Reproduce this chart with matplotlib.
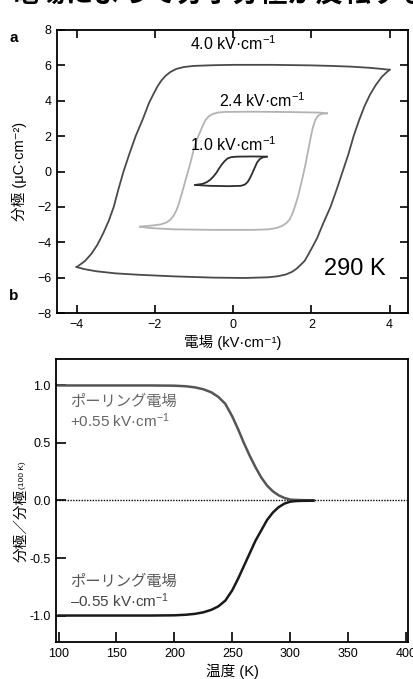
import matplotlib
matplotlib.use("Agg")
import matplotlib.pyplot as plt
from matplotlib.ticker import FixedLocator

plt.rcParams['font.family'] = ['Liberation Sans', 'Noto Sans CJK JP', 'DejaVu Sans']
plt.rcParams['mathtext.fontset'] = 'custom'
plt.rcParams['mathtext.rm'] = 'Liberation Sans'
plt.rcParams['mathtext.it'] = 'Liberation Sans:italic'
plt.rcParams['mathtext.bf'] = 'Liberation Sans:bold'
plt.rcParams['mathtext.default'] = 'regular'

# ---------------- data: panel a (hysteresis loops, E in kV/cm, P in uC/cm2)
outer_up_E = [4.0, 3.8, 3.5, 3.0, 2.5, 2.0, 1.0, 0.0, -0.5, -1.0, -1.25, -1.45, -1.6, -1.72, -1.83, -1.93, -2.03,
              -2.15, -2.3, -2.49, -2.65, -2.8, -2.93, -3.05, -3.18, -3.32, -3.47, -3.62, -3.78, -3.9, -4.0]
outer_up_P = [5.75, 5.8, 5.86, 5.93, 5.97, 6.0, 6.03, 6.03, 6.01, 5.97, 5.91, 5.8, 5.63, 5.42, 5.15, 4.82, 4.4,
              3.87, 3.0, 2.0, 1.0, 0.0, -1.0, -2.0, -2.8, -3.5, -4.15, -4.65, -5.05, -5.25, -5.4]
outer_lo_E = [-4.0, -3.8, -3.5, -3.0, -2.4, -1.5, -0.5, 0.3, 0.9, 1.15, 1.35, 1.5, 1.62, 1.73, 1.83, 1.92, 2.02,
              2.15, 2.3, 2.49, 2.65, 2.8, 2.95, 3.08, 3.22, 3.36, 3.5, 3.65, 3.8, 3.92, 4.0]
outer_lo_P = [-5.4, -5.52, -5.64, -5.76, -5.84, -5.93, -6.0, -6.02, -5.98, -5.92, -5.82, -5.68, -5.5, -5.27, -5.05,
              -4.7, -4.3, -3.75, -2.95, -2.0, -1.0, 0.0, 1.0, 2.0, 2.9, 3.7, 4.35, 4.9, 5.35, 5.6, 5.75]

mid_up_E = [2.4, 2.2, 1.5, 0.5, -0.2, -0.4, -0.52, -0.62, -0.7, -0.77, -0.84, -0.93, -1.0, -1.06, -1.12, -1.19,
            -1.26, -1.33, -1.39, -1.45, -1.52, -1.6, -1.7, -1.85, -2.05, -2.38]
mid_up_P = [3.29, 3.33, 3.36, 3.38, 3.37, 3.33, 3.25, 3.12, 2.92, 2.62, 2.25, 1.78, 1.3, 0.75, 0.25, -0.29,
            -0.85, -1.4, -1.85, -2.2, -2.5, -2.72, -2.88, -2.99, -3.05, -3.12]
mid_lo_E = [-2.38, -2.1, -1.5, -0.5, 0.5, 0.9, 1.1, 1.25, 1.36, 1.45, 1.53, 1.6, 1.66, 1.72, 1.78, 1.85, 1.92,
            1.98, 2.04, 2.1, 2.17, 2.26, 2.4]
mid_lo_P = [-3.12, -3.2, -3.27, -3.3, -3.3, -3.27, -3.2, -3.08, -2.92, -2.7, -2.3, -1.85, -1.4, -0.86, -0.3, 0.4,
            1.2, 1.9, 2.5, 2.9, 3.15, 3.26, 3.29]

inner_up_E = [0.86, 0.5, 0.1, -0.05, -0.14, -0.21, -0.28, -0.35, -0.42, -0.5, -0.58, -0.67, -0.78, -0.97]
inner_up_P = [0.84, 0.85, 0.84, 0.81, 0.74, 0.6, 0.42, 0.2, -0.05, -0.28, -0.46, -0.6, -0.7, -0.76]
inner_lo_E = [-0.97, -0.6, -0.1, 0.2, 0.3, 0.37, 0.43, 0.49, 0.55, 0.61, 0.68, 0.76, 0.86]
inner_lo_P = [-0.76, -0.81, -0.83, -0.81, -0.74, -0.6, -0.38, -0.1, 0.2, 0.5, 0.7, 0.8, 0.84]

loop_labels = ["4.0 kV·cm$^{-1}$", "2.4 kV·cm$^{-1}$", "1.0 kV·cm$^{-1}$"]

# ---------------- data: panel b (normalized polarization vs temperature)
temp_K = [100, 180, 200, 210, 218, 225, 232, 238, 244, 250, 255, 260, 265, 270, 275, 280, 285, 290, 295, 300,
          305, 310, 320]
pol_pos = [1.0, 1.0, 0.998, 0.993, 0.983, 0.967, 0.94, 0.9, 0.84, 0.73, 0.62, 0.5, 0.39, 0.29, 0.2, 0.13, 0.08,
           0.045, 0.022, 0.008, 0.005, 0.003, 0.002]
pol_neg = [-1.0, -1.0, -0.998, -0.993, -0.985, -0.972, -0.95, -0.92, -0.87, -0.78, -0.68, -0.57, -0.46, -0.35,
           -0.26, -0.17, -0.105, -0.058, -0.027, -0.01, -0.005, -0.003, -0.002]

W, H = 414, 679
fig = plt.figure(figsize=(W / 100, H / 100), dpi=100)

# cropped title at top
fig.text(1.03, 1 - 1.5 / H, "電場によって分子分極が反転する", ha='right', va='baseline',
         fontsize=20, fontweight='bold', family=['Noto Sans CJK JP'], color='black')

# ---------------- panel a
axa = fig.add_axes([57 / W, 1 - 313 / H, (408 - 57) / W, (313 - 30) / H])
axa.plot(outer_up_E, outer_up_P, color='#4a4a4a', lw=1.3)
axa.plot(outer_lo_E, outer_lo_P, color='#4a4a4a', lw=1.3)
axa.plot(mid_up_E, mid_up_P, color='#b3b3b3', lw=1.3)
axa.plot(mid_lo_E, mid_lo_P, color='#b3b3b3', lw=1.3)
axa.plot(inner_up_E, inner_up_P, color='#2e2e2e', lw=1.3)
axa.plot(inner_lo_E, inner_lo_P, color='#2e2e2e', lw=1.3)
axa.set_xlim(-4.5, 4.47)
axa.set_ylim(-8, 8)
axa.xaxis.set_major_locator(FixedLocator([-4, -2, 0, 2, 4]))
axa.yaxis.set_major_locator(FixedLocator([-8, -6, -4, -2, 0, 2, 4, 6, 8]))
axa.tick_params(direction='in', length=6, width=1.2, top=True, right=True, labelsize=9, pad=4)
for s in axa.spines.values():
    s.set_linewidth(1.3)
axa.text(0.0, 7.2, loop_labels[0], ha='center', va='center', fontsize=11.5)
axa.text(0.74, 4.0, loop_labels[1], ha='center', va='center', fontsize=11.5)
axa.text(0.0, 1.5, loop_labels[2], ha='center', va='center', fontsize=11.5)
axa.text(3.1, -5.5, "290 K", ha='center', va='center', fontsize=17)
axa.set_xlabel("電場 (kV·cm⁻¹)", fontsize=10.5, labelpad=3)
axa.set_ylabel("分極 (μC·cm⁻²)", fontsize=10.5, labelpad=7)
fig.text(14 / W, 1 - 38 / H, "a", fontsize=11, fontweight='bold', ha='center', va='center')

# ---------------- panel b
axb = fig.add_axes([56 / W, 1 - 642 / H, (408 - 56) / W, (642 - 359) / H])
axb.axhline(0, color='black', lw=1.0, ls=(0, (1, 1)))
axb.plot(temp_K, pol_pos, color='#555555', lw=1.8)
axb.plot(temp_K, pol_neg, color='#1a1a1a', lw=1.8)
axb.set_xlim(97.8, 401.7)
axb.set_ylim(-1.23, 1.23)
axb.xaxis.set_major_locator(FixedLocator([100, 150, 200, 250, 300, 350, 400]))
axb.yaxis.set_major_locator(FixedLocator([-1.0, -0.5, 0.0, 0.5, 1.0]))
axb.set_yticklabels(["-1.0", "-0.5", "0.0", "0.5", "1.0"])
axb.tick_params(direction='in', length=7, width=1.2, labelsize=9, pad=4)
for s in axb.spines.values():
    s.set_linewidth(1.3)
axb.text(110.3, 0.855, "ポーリング電場", ha='left', va='center', fontsize=11, color='#666666')
axb.text(110.3, 0.69, "+0.55 kV·cm$^{-1}$", ha='left', va='center', fontsize=11, color='#666666')
axb.text(110.3, -0.71, "ポーリング電場", ha='left', va='center', fontsize=11, color='#555555')
axb.text(110.3, -0.875, "–0.55 kV·cm$^{-1}$", ha='left', va='center', fontsize=11, color='#444444')
axb.set_xlabel("温度 (K)", fontsize=10.5, labelpad=3)
fig.text(21 / W, 1 - 525 / H, "分極／分極", rotation=90, ha='center', va='center', fontsize=10.5)
fig.text(23 / W, 1 - 475 / H, "(100 K)", rotation=90, ha='center', va='center', fontsize=6)
fig.text(14 / W, 1 - 296 / H, "b", fontsize=11, fontweight='bold', ha='center', va='center')

fig.savefig("out.png", dpi=100)
